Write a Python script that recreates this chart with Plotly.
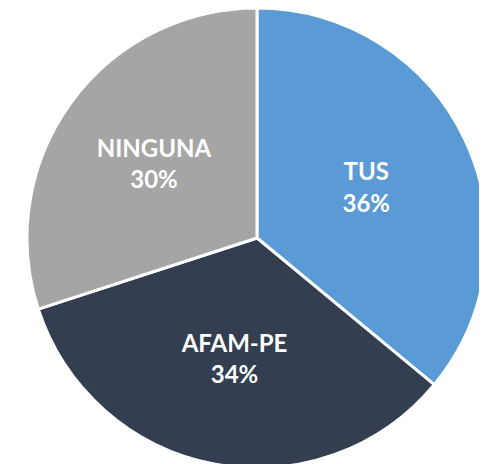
import plotly.graph_objects as go

labels = ["TUS", "AFAM-PE", "NINGUNA"]
values = [36, 34, 30]
colors = ["#5B9BD5", "#333F50", "#A5A5A5"]

fig = go.Figure()
fig.add_trace(go.Pie(
    labels=labels, values=values,
    sort=False, direction="clockwise", rotation=0,
    marker=dict(colors=colors, line=dict(color="white", width=3)),
    texttemplate="<b>%{label}<br>%{percent:.0%}</b>",
    textposition="inside", insidetextorientation="horizontal",
    textfont=dict(family="Lato, Open Sans, sans-serif", size=24, color="white"),
    domain=dict(x=[19/487, 479/487], y=[4/464, 1]),
    showlegend=False, hoverinfo="label+percent",
))

fig.update_layout(
    width=487, height=464,
    margin=dict(l=0, r=0, t=0, b=0),
    paper_bgcolor="white",
)
fig.write_html("out.html")
